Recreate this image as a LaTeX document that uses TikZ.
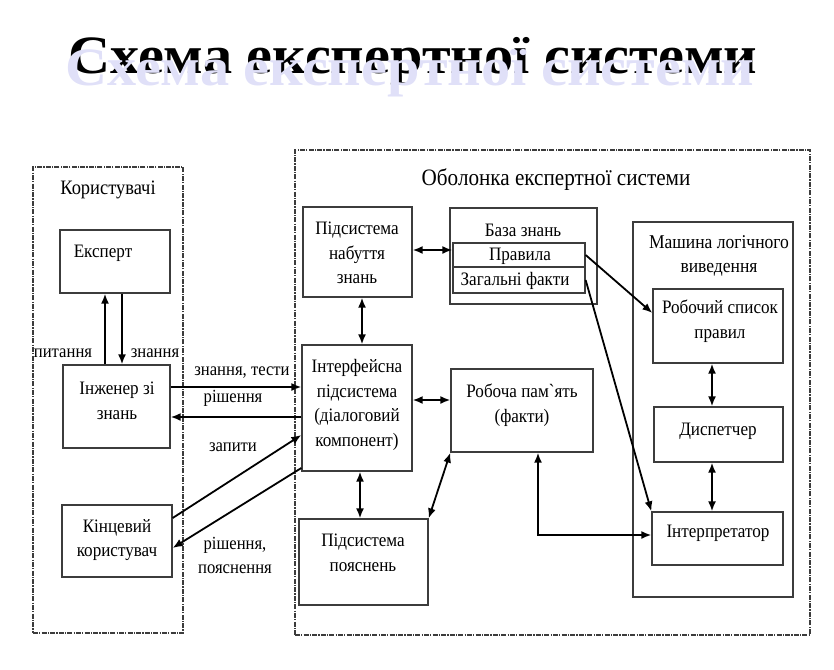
\documentclass[tikz,border=0pt]{standalone}
\usepackage{fontspec}
\setmainfont{Liberation Serif}
\newfontfamily\dfont[FakeStretch=0.9]{Liberation Serif}
\newfontfamily\tfont[FakeStretch=1.08]{Liberation Serif}
\usetikzlibrary{arrows.meta}
\definecolor{lav}{RGB}{224,224,248}
\definecolor{boxc}{RGB}{60,60,60}
\tikzset{
  box/.style={draw=boxc, line width=1.3pt, rectangle, inner sep=0pt},
  dbox/.style={draw=boxc, line width=1.1pt, rectangle, inner sep=0pt,
     dash pattern=on 5pt off 1.2pt on 1.2pt off 1.2pt},
  txt/.style={align=center, inner sep=0pt, font=\dfont\fontsize{19}{24.5}\selectfont},
  lbl/.style={align=center, inner sep=0pt, font=\dfont\fontsize{18.5}{24}\selectfont},
  ttl/.style={anchor=base west, inner sep=0pt, font=\tfont\fontsize{54}{54}\bfseries\selectfont},
  arr/.style={line width=1.8pt, -{Latex[length=10pt,width=8pt]}},
  darr/.style={line width=1.8pt, {Latex[length=10pt,width=8pt]}-{Latex[length=10pt,width=8pt]}},
}
\begin{document}
\begin{tikzpicture}[x=1pt,y=-1pt]
\useasboundingbox (0,0) rectangle (834,669);
% title
\node[ttl] (tb) at (68,73) {Схема експертної системи};
\node[ttl, text=lav] (tl) at (65,85) {Схема експертної системи};
% dashed frames
\node[dbox, minimum width=150pt, minimum height=466pt] (users) at (108,400) {};
\node[dbox, minimum width=515pt, minimum height=485pt] (shell) at (552.5,392.5) {};
\node[txt, font=\dfont\fontsize{20.5}{24}\selectfont] (usersT) at (108,190) {Користувачі};
\node[txt, font=\dfont\fontsize{23.5}{24}\selectfont] (shellT) at (556,180) {Оболонка експертної системи};
% boxes
\node[box, minimum width=110pt, minimum height=63pt] (exp) at (115,261.5) {};
\node[box, minimum width=107pt, minimum height=83pt] (eng) at (116.5,406.5) {};
\node[box, minimum width=110pt, minimum height=72pt] (usr) at (117,541) {};
\node[box, minimum width=109pt, minimum height=90pt] (acq) at (357.5,252) {};
\node[box, minimum width=110pt, minimum height=126pt] (ifc) at (357,408) {};
\node[box, minimum width=147pt, minimum height=96pt] (kb) at (523.5,256) {};
\node[box, minimum width=132pt, minimum height=24pt] (rules) at (519,255) {};
\node[box, minimum width=132pt, minimum height=26pt] (facts) at (519,280) {};
\node[box, minimum width=142pt, minimum height=83pt] (wm) at (522,410.5) {};
\node[box, minimum width=129pt, minimum height=86pt] (expl) at (363.5,562) {};
\node[box, minimum width=160pt, minimum height=375pt] (mach) at (713,409.5) {};
\node[box, minimum width=130pt, minimum height=74pt] (wl) at (718,326) {};
\node[box, minimum width=129pt, minimum height=55pt] (disp) at (718.5,434.5) {};
\node[box, minimum width=131pt, minimum height=53pt] (interp) at (717.5,538.5) {};
% texts
\node[txt] (expT) at (103,253) {Експерт};
\node[txt] (engT) at (117,401) {Інженер зі\\знань};
\node[txt] (usrT) at (117,540) {Кінцевий\\користувач};
\node[txt] (acqT) at (357,253) {Підсистема\\набуття\\знань};
\node[txt] (ifcT) at (357,405) {Інтерфейсна\\підсистема\\(діалоговий\\компонент)};
\node[txt] (kbT) at (523,230) {База знань};
\node[txt] (rulesT) at (520,256) {Правила};
\node[txt] (factsT) at (515,281) {Загальні факти};
\node[txt] (wmT) at (522,405) {Робоча пам`ять\\(факти)};
\node[txt] (explT) at (363,553) {Підсистема\\пояснень};
\node[txt, font=\dfont\fontsize{19.5}{24.5}\selectfont] (machT) at (719,256) {Машина логічного\\виведення};
\node[txt] (wlT) at (720,321) {Робочий список\\правил};
\node[txt] (dispT) at (718,431) {Диспетчер};
\node[txt] (interpT) at (718,533) {Інтерпретатор};
% edge labels
\node[lbl] (l1) at (63,353) {питання};
\node[lbl] (l2) at (155,353) {знання};
\node[lbl] (l3) at (242,373) {знання, тести};
\node[lbl] (l4) at (233,398) {рішення};
\node[lbl] (l5) at (233,447) {запити};
\node[lbl] (l6) at (235,555.5) {рішення,\\пояснення};
% connectors
\draw[arr] (eng.north -| 105,0) -- (exp.south -| 105,0);
\draw[arr] (exp.south -| 122,0) -- (eng.north -| 122,0);
\draw[arr] (eng.east |- 0,387) -- (ifc.west |- 0,387);
\draw[arr] (ifc.west |- 0,417) -- (eng.east |- 0,417);
\draw[arr] (usr.east |- 0,518) -- (ifc.west |- 0,435);
\draw[arr] (ifc.west |- 0,468) -- (usr.east |- 0,548);
\draw[darr] (acq.south -| 362,0) -- (ifc.north -| 362,0);
\draw[darr] (acq.east |- 0,250) -- (rules.west |- 0,250);
\draw[darr] (ifc.east |- 0,400) -- (wm.west |- 0,400);
\draw[darr] (ifc.south -| 360,0) -- (expl.north -| 360,0);
\draw[darr] (expl.north east) -- (wm.south west);
\draw[darr] (wm.south -| 538,0) |- (interp.west |- 0,535);
\draw[arr] (rules.east) -- (wl.west |- 0,313);
\draw[arr] (facts.east) -- (interp.north west);
\draw[darr] (wl.south -| 712,0) -- (disp.north -| 712,0);
\draw[darr] (disp.south -| 712,0) -- (interp.north -| 712,0);
\end{tikzpicture}
\end{document}
